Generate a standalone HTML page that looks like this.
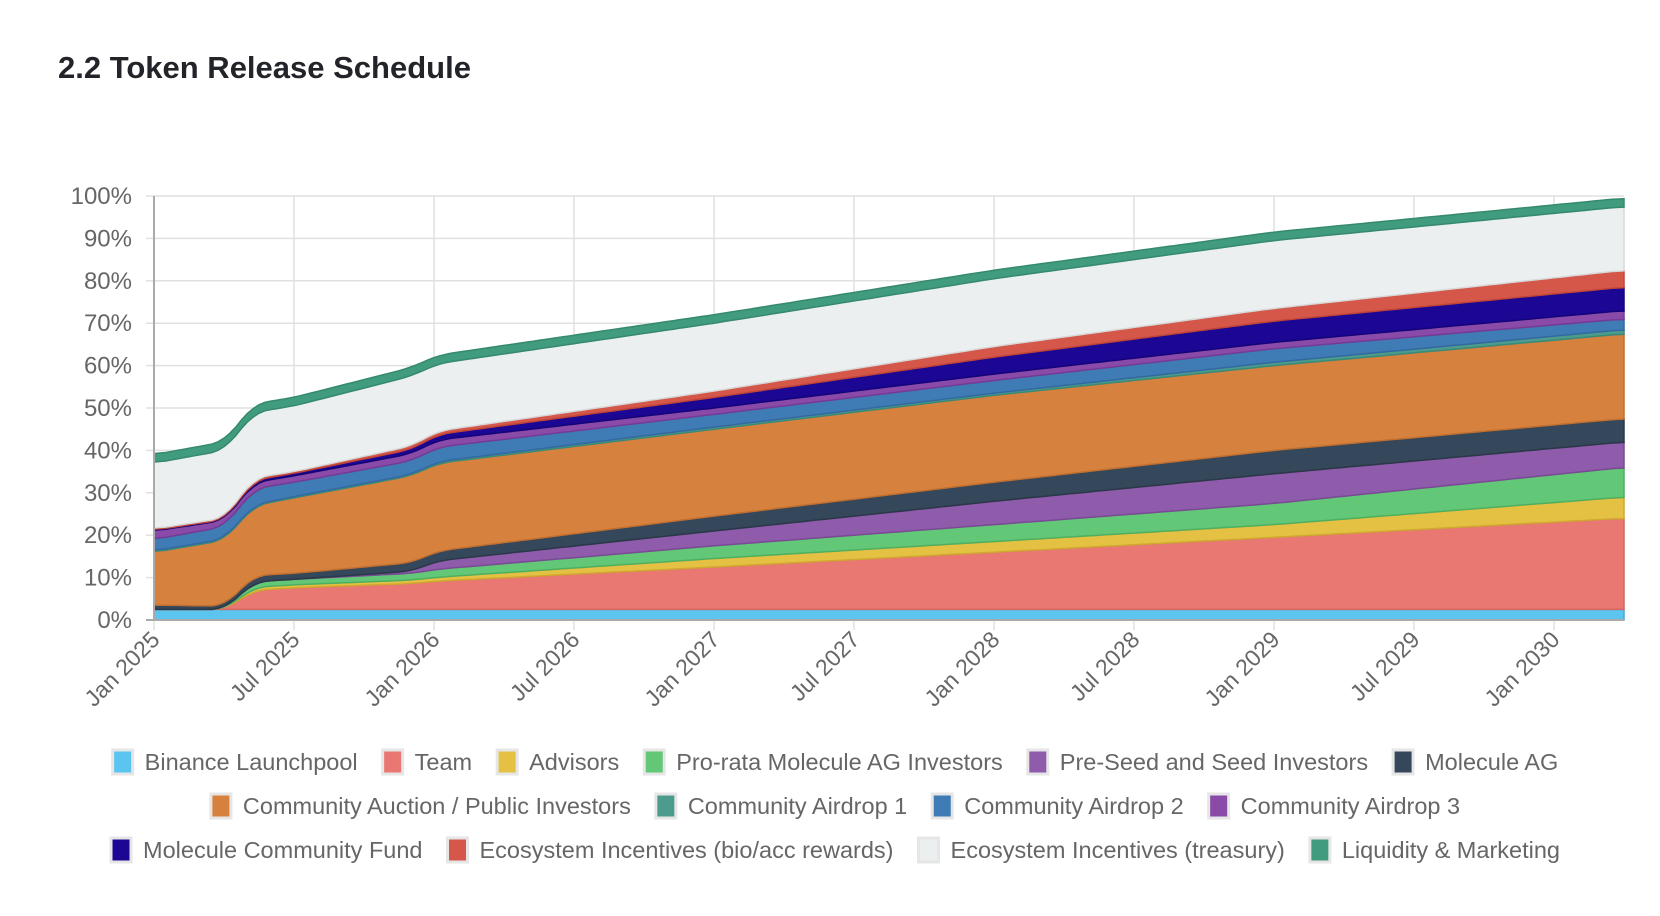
<!DOCTYPE html>
<html><head><meta charset="utf-8"><style>
body{margin:0;background:#fff;width:1660px;height:916px;overflow:hidden;font-family:"Liberation Sans",sans-serif}
h1{position:absolute;left:58px;top:50px;margin:0;font-size:31px;font-weight:bold;color:#23242a}
</style></head><body>
<h1>2.2 Token Release Schedule</h1>
<svg id="s" width="1660" height="916" style="position:absolute;left:0;top:0"></svg>
<script>
const s=document.getElementById('s');
const X0=154,YR=280,Y0=620,PY=4.24;
const xm=m=>X0+m*YR/12, yp=p=>Y0-p*PY;
let h='';
for(let i=0;i<=10;i++){const y=yp(i*10);h+=`<line x1="146" x2="1624" y1="${y}" y2="${y}" stroke="#e0e0e0" stroke-width="1.5"/>`;
h+=`<text x="132" y="${y+8}" text-anchor="end" font-size="24" fill="#666">${i*10}%</text>`;}
const labs=['Jan 2025','Jul 2025','Jan 2026','Jul 2026','Jan 2027','Jul 2027','Jan 2028','Jul 2028','Jan 2029','Jul 2029','Jan 2030'];
labs.forEach((l,i)=>{const x=xm(i*6);h+=`<line x1="${x}" x2="${x}" y1="196" y2="630" stroke="#e0e0e0" stroke-width="1.5"/>`;
h+=`<text transform="translate(${x+7},641) rotate(-45)" text-anchor="end" font-size="23" fill="#666">${l}</text>`;});
const T=[0,3.0,4.3,6,11,12.2,24,36,48,63];
const D=[
[2.5,2.5,2.5,2.5,2.5,2.5,2.5,2.5,2.5,2.5],
[2.5,2.5,7,7.6,8.6,9.2,12.5,16,19.5,24],
[2.5,2.5,7.7,8.3,9.4,10.1,14.5,18.5,22.5,29],
[2.5,2.5,9,9.6,11,12,17.5,22.5,27.5,36],
[2.5,2.5,9,9.6,11.5,14,21,28,34.5,42],
[3.5,3.3,10.5,11,13.5,16.3,24.5,32.5,40,47.5],
[16,18.8,27,28.8,34,37,45,53,60,67.5],
[16.3,19.1,27.3,29.1,34.3,37.4,45.5,53.5,60.8,68.5],
[19,22,31,32.5,37.5,40.8,48.5,56.5,64,71],
[21,23.5,32.5,34,39.2,42.5,50,58,65.5,73],
[21.2,23.7,33,34.6,40.2,43.8,52.5,62,70.5,78.5],
[21.5,24,33.5,35,41,44.6,54,64.5,73.5,82.5],
[37,40,49,50.5,57.5,60.5,70,80.5,89.5,97.5],
[39,42,51,52.5,59.5,62.5,72,82.5,91.5,99.5]];
const cols=['#5bc5ef','#e97772','#e4c143','#62c776','#8f5bab','#35475a','#d6823e','#4b9c8c','#3f7cb6','#8a4aa8','#1c0694','#d4574a','#eceff0','#419b7e'];
const strokes=['#4aa8d6','#d4665f','#d0a830','#4faf60','#7a4a96','#2a3848','#c06f30','#3a8a7a','#3568a0','#763a94','#14047a','#c04538','#d8d8d8','#358a6c'];
function lin(row,t){for(let i=0;i<T.length-1;i++){if(t<=T[i+1]){const f=(t-T[i])/(T[i+1]-T[i]);return row[i]+(row[i+1]-row[i])*f;}}return row[row.length-1];}
const ts=[];for(let t=0;t<=63.001;t+=0.25)ts.push(t);
function series(row){const v=ts.map(t=>lin(row,t));const W=2;return v.map((_,i)=>{let a=0,n=0;for(let j=i-W;j<=i+W;j++){if(j>=0&&j<v.length){a+=v[j];n++;}}return a/n;});}
const S=D.map(series);
for(let k=0;k<D.length;k++){
 const top=ts.map((t,i)=>[xm(t),yp(S[k][i])]);
 const bot=ts.map((t,i)=>[xm(t),k?yp(S[k-1][i]):Y0]).reverse();
 const d='M'+top.map(p=>p[0].toFixed(1)+','+p[1].toFixed(1)).join('L')+'L'+bot.map(p=>p[0].toFixed(1)+','+p[1].toFixed(1)).join('L')+'Z';
 h+=`<path d="${d}" fill="${cols[k]}" stroke="${strokes[k]}" stroke-width="1.5"/>`;
}
h+=`<line x1="154" x2="154" y1="196" y2="620" stroke="#aaa" stroke-width="2"/>`;
h+=`<line x1="146" x2="1624" y1="620" y2="620" stroke="#aaa" stroke-width="2"/>`;
const names=['Binance Launchpool','Team','Advisors','Pro-rata Molecule AG Investors','Pre-Seed and Seed Investors','Molecule AG','Community Auction / Public Investors','Community Airdrop 1','Community Airdrop 2','Community Airdrop 3','Molecule Community Fund','Ecosystem Incentives (bio/acc rewards)','Ecosystem Incentives (treasury)','Liquidity & Marketing'];
const rows=[[0,1,2,3,4,5],[6,7,8,9],[10,11,12,13]];const ry=[762,806,850];
s.innerHTML=h;
rows.forEach((r,ri)=>{
 const g=document.createElementNS('http://www.w3.org/2000/svg','g');s.appendChild(g);
 let x=0,gh='';
 r.forEach(i=>{gh+=`<rect x="${x+1}" y="${ry[ri]-12}" width="20" height="24" fill="${cols[i]}" stroke="#e6e6e6" stroke-width="3"/>`;
  gh+=`<text x="${x+33}" y="${ry[ri]+8}" font-size="23.5" fill="#666">${names[i].replace('&','&amp;')}</text>`;
  g.innerHTML=gh; const tt=g.lastChild; x+=33+tt.getComputedTextLength()+24;});
 g.innerHTML=gh; const w=x-24; g.setAttribute('transform',`translate(${(1660-w)/2+5},0)`);
});
</script>
</body></html>
